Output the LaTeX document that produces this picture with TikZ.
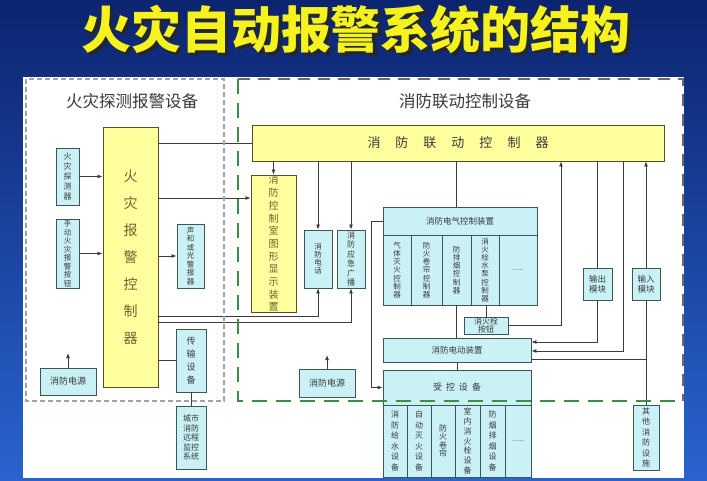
\documentclass[tikz,border=0pt]{standalone}
\usepackage{fontspec}
\setmainfont{Noto Sans CJK SC}
\usepackage{tikz}
\usetikzlibrary{arrows.meta}
\definecolor{bgdark}{HTML}{0C2470}
\definecolor{bglight}{HTML}{2A63CF}
\definecolor{titley}{HTML}{F6F21E}
\definecolor{cyanfill}{HTML}{C9F1F6}
\definecolor{yelfill}{HTML}{FFFF9E}
\definecolor{boxline}{HTML}{3F5656}
\definecolor{wirec}{HTML}{3C3C3C}
\definecolor{ink}{HTML}{3A3A3A}
\definecolor{olive}{HTML}{6B6230}
\definecolor{grpgray}{HTML}{9AA6A6}
\definecolor{grpgreen}{HTML}{3E8E45}
\definecolor{grpdark}{HTML}{6E6A5E}
\newcommand{\shadowtext}[1]{\rlap{\hspace{3pt}\raisebox{-3pt}{\color{black!85}#1}}#1}
\tikzset{
  cbox/.style={draw=boxline, fill=cyanfill, line width=0.9pt, inner sep=0pt, align=center, text=ink},
  ybox/.style={draw=olive!80!black, fill=yelfill, line width=0.9pt, inner sep=0pt, align=center, text=olive},
  wire/.style={draw=wirec, line width=0.8pt},
  arr/.style={wire, -{Latex[length=5pt,width=4pt]}},
  grplbl/.style={text=ink, font=\fontsize{16.5}{17}\selectfont},
  grpleft/.style={draw=grpgray, line width=1.2pt, dash pattern=on 5pt off 3pt},
  grpline/.style={draw=grpgreen, line width=1.6pt, dash pattern=on 15pt off 9pt},
  grpedge/.style={draw=grpdark, line width=1.4pt, dash pattern=on 12pt off 8pt},
  ttl/.style={font=\fontsize{50}{50}\selectfont\bfseries}
}

\begin{document}
\begin{tikzpicture}[x=1pt,y=-1pt]
  \useasboundingbox (0,0) rectangle (707,481);
  \shade[top color=bgdark, bottom color=bglight] (0,0) rectangle (707,481);
  \fill[white] (23,77) rectangle (684,478);

  % title
  \node[ttl, text=titley] (title) at (356,31) {\shadowtext{火灾自动报警系统的结构}};

  \node[grplbl] (lblfire) at (132,101) {火灾探测报警设备};
  \node[grplbl] (lbllink) at (465,101) {消防联动控制设备};

  % fire detection side
  \node[cbox, minimum width=23, minimum height=57, font=\fontsize{8}{10}\selectfont] (det) at (67.5,176.5) {火\\灾\\探\\测\\器};
  \node[cbox, minimum width=23, minimum height=69, font=\fontsize{7.5}{8.5}\selectfont] (man) at (67.5,253.5) {手\\动\\火\\灾\\报\\警\\按\\钮};
  \node[ybox, minimum width=55, minimum height=260, font=\fontsize{14}{27}\selectfont] (fac) at (130.5,257) {火\\灾\\报\\警\\控\\制\\器};
  \node[cbox, minimum width=27, minimum height=64, font=\fontsize{7.5}{8.5}\selectfont] (alm) at (190.5,256) {声\\和\\或\\光\\警\\报\\器};
  \node[cbox, minimum width=30, minimum height=63, font=\fontsize{9}{13}\selectfont] (trn) at (191,360.5) {传\\输\\设\\备};
  \node[cbox, minimum width=30, minimum height=63, font=\fontsize{8}{9.5}\selectfont] (rem) at (191,437.5) {城市\\消防\\远程\\监控\\系统};
  \node[cbox, minimum width=56, minimum height=27, font=\fontsize{9}{10}\selectfont] (pwl) at (68,381.5) {消防电源};
  \coordinate (pwlup) at (68,353);

  % linkage side
  \node[ybox, minimum width=412, minimum height=36, font=\fontsize{13}{14}\selectfont, text=ink] (lk) at (458,143)
    {消\hspace{15pt}防\hspace{15pt}联\hspace{15pt}动\hspace{15pt}控\hspace{15pt}制\hspace{15pt}器};
  \node[ybox, minimum width=45, minimum height=137, font=\fontsize{10}{12.7}\selectfont] (gfx) at (273.5,243.5) {消\\防\\控\\制\\室\\图\\形\\显\\示\\装\\置};
  \node[cbox, minimum width=28, minimum height=58, font=\fontsize{7.5}{8}\selectfont] (tel) at (318,259) {消\\防\\电\\话};
  \node[cbox, minimum width=28, minimum height=58, font=\fontsize{8}{9.5}\selectfont] (bc) at (351,259) {消\\防\\应\\急\\广\\播};

  \node[cbox, minimum width=154, minimum height=28, font=\fontsize{8.5}{10}\selectfont] (elc) at (460,221) {消防电气控制装置};
  \node[cbox, minimum width=28, minimum height=70, font=\fontsize{7.5}{8.2}\selectfont] (c1) at (397,270) {气\\体\\灭\\火\\控\\制\\器};
  \node[cbox, minimum width=31, minimum height=70, font=\fontsize{7.5}{8.2}\selectfont] (c2) at (426.5,270) {防\\火\\卷\\帘\\控\\制\\器};
  \node[cbox, minimum width=29, minimum height=70, font=\fontsize{7.5}{8.2}\selectfont] (c3) at (456.5,270) {防\\排\\烟\\控\\制\\器};
  \node[cbox, minimum width=28, minimum height=70, font=\fontsize{7.5}{8.2}\selectfont] (c4) at (485,270) {消\\火\\栓\\水\\泵\\控\\制\\器};
  \node[cbox, minimum width=38, minimum height=70, font=\fontsize{7}{8}\selectfont] (c5) at (518,270) {......};
  \node[cbox, minimum width=44, minimum height=17, font=\fontsize{8}{8.5}\selectfont] (btn) at (486,325.5) {消火栓\\按钮};
  \node[cbox, minimum width=148, minimum height=24, font=\fontsize{8.5}{10}\selectfont] (mot) at (457,350) {消防电动装置};
  \node[cbox, minimum width=29, minimum height=32, font=\fontsize{8.5}{10}\selectfont] (outm) at (597.5,284) {输出\\模块};
  \node[cbox, minimum width=28, minimum height=32, font=\fontsize{8.5}{10}\selectfont] (inm) at (646,284) {输入\\模块};
  \node[cbox, minimum width=148, minimum height=35, font=\fontsize{9}{10}\selectfont] (ctl) at (457,387.5)
    {受\hspace{4pt}控\hspace{4pt}设\hspace{4pt}备};
  \node[cbox, minimum width=24, minimum height=72, font=\fontsize{8}{10.6}\selectfont] (d1) at (395,441) {消\\防\\给\\水\\设\\备};
  \node[cbox, minimum width=24, minimum height=72, font=\fontsize{8}{10.6}\selectfont] (d2) at (419,441) {自\\动\\灭\\火\\设\\备};
  \node[cbox, minimum width=24, minimum height=72, font=\fontsize{8}{8.5}\selectfont] (d3) at (443,441) {防\\火\\卷\\帘};
  \node[cbox, minimum width=25, minimum height=72, font=\fontsize{8}{9.7}\selectfont] (d4) at (467.5,441) {室\\内\\消\\火\\栓\\设\\备};
  \node[cbox, minimum width=25, minimum height=72, font=\fontsize{8}{10.6}\selectfont] (d5) at (492.5,441) {防\\烟\\排\\烟\\设\\备};
  \node[cbox, minimum width=26, minimum height=72, font=\fontsize{7}{8}\selectfont] (d6) at (518,441) {......};
  \node[cbox, minimum width=26, minimum height=65, font=\fontsize{8}{10.4}\selectfont] (oth) at (646,437.5) {其\\他\\消\\防\\设\\施};
  \node[cbox, minimum width=56, minimum height=28, font=\fontsize{9}{10}\selectfont] (pwm) at (327,383) {消防电源};
  \coordinate (pwmup) at (327,355);

  % connections, detection side
  \draw[arr] (det.east) -- (det.east -| fac.west);
  \draw[arr] (man.east) -- (man.east -| fac.west);
  \draw[arr] (alm.west -| fac.east) -- (alm.west);
  \draw[wire] (trn.west -| fac.east) -- (trn.west);
  \draw[wire] (trn.south) -- (rem.north);
  \draw[arr] (pwl.north) -- (pwlup);

  % connections to linkage side
  \draw[wire] (lk.west -| fac.east) -- (lk.west);
  \draw[arr] (fac.east |- 0,198) -- (gfx.west |- 0,198);
  \draw[arr] (fac.east |- 0,316) -| (tel.south);
  \draw[arr] (fac.east |- 0,322) -| (bc.south);
  \draw[arr] (lk.south -| gfx.north) -- (gfx.north);
  \draw[arr] (lk.south -| tel.north) -- (tel.north);
  \draw[arr] (lk.south -| bc.north) -- (bc.north);
  \draw[wire] (lk.south -| c3.north) -- (elc.north -| c3.north);
  \draw[arr] (elc.west) -- ++(-11,0) |- (ctl.west);
  \draw[wire] (c4.south -| btn.north) -- (btn.north);
  \draw[arr] (btn.east) -| (lk.south -| 561,0);
  \draw[wire] (c3.south) -- (c3.south |- mot.north);
  \draw[wire] (lk.south -| outm.north) -- (outm.north);
  \draw[arr] (outm.south) |- (mot.east |- 0,342);
  \draw[arr] (lk.south -| 623,0) |- (mot.east |- 0,351);
  \draw[arr] (inm.north) -- (inm.north |- lk.south);
  \draw[wire] (inm.south) -- (oth.north);
  \draw[wire] (mot.east |- 0,359) -- (inm.south |- 0,359);
  \draw[wire] (mot.south) -- (ctl.north);
  \draw[arr] (pwm.north) -- (pwmup);

  % group frames
  \draw[grpleft] (26,79) rectangle (224,401);
  \draw[grpedge] (238,79) -- (683,79) -- (683,401);
  \draw[grpline] (238,79) -- (238,401) -- (683,401);
\end{tikzpicture}
\end{document}
